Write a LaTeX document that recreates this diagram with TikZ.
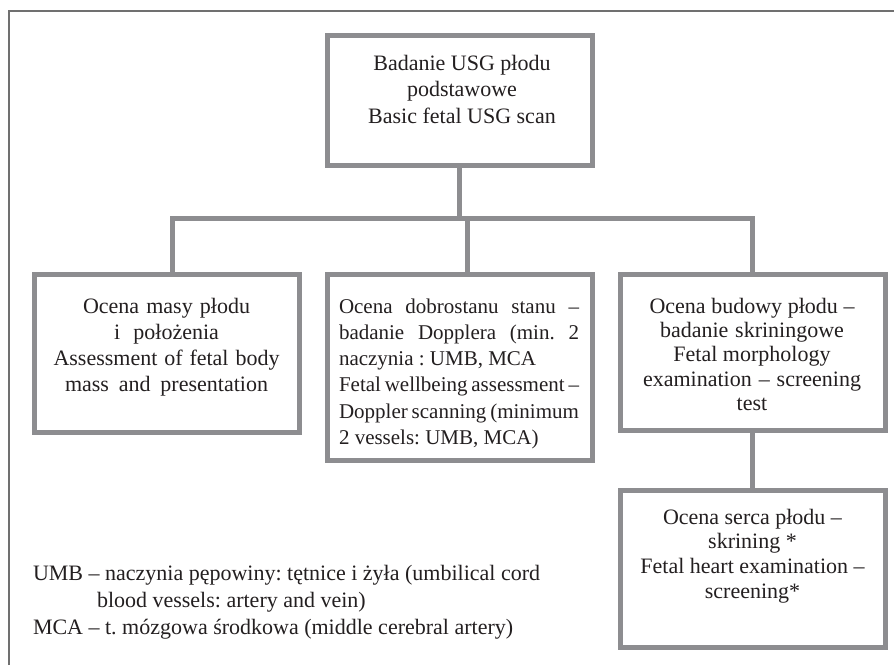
\documentclass[tikz,border=0pt]{standalone}
\usepackage{fontspec}
\setmainfont{Liberation Serif}
\usetikzlibrary{calc}
\frenchspacing

\definecolor{boxgray}{RGB}{141,141,144}
\definecolor{framegray}{RGB}{112,112,112}
\definecolor{ink}{RGB}{35,31,32}

% line set to a given width, the word spaces stretching or shrinking
\newcommand\wline[2]{\makebox[#1][s]{\spaceskip=5.25pt plus 40pt minus 3pt #2}}
% fixed first-line height so that anchor=north puts the baseline 16pt lower
\newcommand\tstrut{\rule{0pt}{16pt}}

\begin{document}
\begin{tikzpicture}[x=1pt,y=-1pt,
  box/.style={draw=boxgray,line width=5pt,fill=white,inner sep=0pt,outer sep=0pt,
              anchor=north west,minimum width=265pt},
  conn/.style={draw=boxgray,line width=5pt,line join=miter},
  label/.style={inner sep=0pt,outer sep=0pt,anchor=north,text=ink,
                font=\fontsize{22}{26.3}\selectfont\frenchspacing,align=center},
]
\useasboundingbox (0,0) rectangle (894,665);
\fill[white] (0,0) rectangle (894,665);

% outer frame (top and left edges)
\draw[framegray,line width=1.4pt] (9,665) -- (9,11) -- (894,11);

% boxes
\node[box,minimum height=130pt] (top)    at (327,35)  {};
\node[box,minimum height=158pt] (left)   at (34,274)  {};
\node[box,minimum height=186pt] (mid)    at (327,274) {};
\node[box,minimum height=156pt] (right)  at (620,274) {};
\node[box,minimum height=157pt] (bottom) at (620,490) {};

% connectors
\coordinate (bus) at (459.5,218);
\draw[conn] (top.south) -- (bus);
\draw[conn] ([xshift=5.5pt]left.north) |- (bus) -| (right.north);
\draw[conn] ([xshift=7.5pt]mid.north) -- ([xshift=7.5pt]mid.north |- bus);
\draw[conn] (right.south) -- (bottom.north);

% box texts
\node[label,font=\fontsize{22}{26.5}\selectfont] (topText) at (462,54)
  {\tstrut Badanie USG płodu\\podstawowe\\Basic fetal USG scan};

\node[label] (leftText) at (166.5,297)
  {\tstrut\wline{167pt}{Ocena masy płodu}\\
   \wline{105pt}{i położenia}\\
   \wline{226pt}{Assessment of fetal body}\\
   \wline{203pt}{mass and presentation}};

\node[label,anchor=north west,align=left,font=\fontsize{21}{26.3}\selectfont\frenchspacing] (midText) at (339,297)
  {\tstrut\wline{240pt}{Ocena dobrostanu stanu –}\\
   \wline{240pt}{badanie Dopplera (min.\ 2}\\
   naczynia : UMB, MCA\\
   \wline{240pt}{Fetal wellbeing assessment –}\\
   \wline{240pt}{Doppler scanning (minimum}\\
   2 vessels: UMB, MCA)};

\node[label,font=\fontsize{22}{24.4}\selectfont] (rightText) at (752,297)
  {\tstrut\wline{205pt}{Ocena budowy płodu –}\\
   \wline{184pt}{badanie skriningowe}\\
   Fetal morphology\\
   \wline{218pt}{examination – screening}\\
   test};

\node[label,font=\fontsize{22}{24.7}\selectfont] (bottomText) at (752.5,508)
  {\tstrut Ocena serca płodu –\\skrining *\\Fetal heart examination –\\screening*};

% legend
\node[label,anchor=north west,align=left,font=\fontsize{22}{27}\selectfont] (legend) at (33,564)
  {\tstrut UMB – naczynia pępowiny: tętnice i żyła (umbilical cord\\
   \hspace*{64pt}blood vessels: artery and vein)\\
   MCA – t. mózgowa środkowa (middle cerebral artery)};
\end{tikzpicture}
\end{document}
